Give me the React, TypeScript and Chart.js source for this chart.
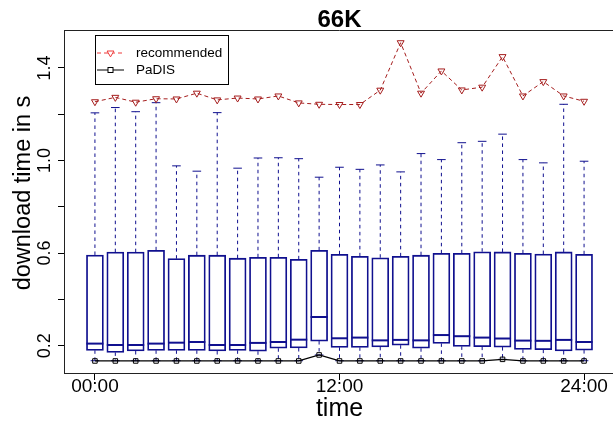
import React, { useEffect, useRef } from 'react';
import { Chart, registerables } from 'chart.js';

Chart.register(...registerables);

// ---- data ----
const hours = [0, 1, 2, 3, 4, 5, 6, 7, 8, 9, 10, 11, 12, 13, 14, 15, 16, 17, 18, 19, 20, 21, 22, 23, 24];

const recommended = [1.254, 1.273, 1.252, 1.267, 1.266, 1.291, 1.262, 1.270, 1.266, 1.279, 1.249, 1.243, 1.242,
  1.242, 1.304, 1.509, 1.291, 1.387, 1.305, 1.317, 1.449, 1.279, 1.341, 1.279, 1.256];

const padis = [0.134, 0.134, 0.134, 0.134, 0.134, 0.134, 0.134, 0.134, 0.134, 0.134, 0.134, 0.160, 0.134,
  0.134, 0.134, 0.134, 0.134, 0.134, 0.134, 0.134, 0.141, 0.134, 0.134, 0.134, 0.134];

const upperWhisker = [1.206, 1.229, 1.211, 1.250, 0.977, 0.954, 1.207, 0.967, 1.011, 1.012, 1.008, 0.928, 0.971,
  0.962, 0.981, 0.951, 1.030, 1.004, 1.077, 1.083, 1.114, 1.004, 0.990, 1.243, 0.997];

const q3 = [0.592, 0.604, 0.604, 0.612, 0.576, 0.591, 0.591, 0.578, 0.582, 0.582, 0.573, 0.612, 0.595,
  0.586, 0.580, 0.586, 0.591, 0.599, 0.599, 0.606, 0.605, 0.599, 0.596, 0.605, 0.595];

const median = [0.209, 0.203, 0.203, 0.209, 0.213, 0.216, 0.203, 0.203, 0.212, 0.216, 0.226, 0.324, 0.232,
  0.235, 0.223, 0.225, 0.223, 0.246, 0.241, 0.235, 0.231, 0.222, 0.221, 0.225, 0.216];

const q1 = [0.180, 0.171, 0.177, 0.180, 0.180, 0.180, 0.177, 0.180, 0.176, 0.189, 0.190, 0.220, 0.193,
  0.193, 0.195, 0.202, 0.189, 0.210, 0.197, 0.196, 0.194, 0.184, 0.183, 0.177, 0.181];

const lowerWhisker = [0.135, 0.135, 0.135, 0.135, 0.135, 0.135, 0.135, 0.135, 0.135, 0.135, 0.135, 0.160, 0.135,
  0.135, 0.135, 0.135, 0.135, 0.135, 0.135, 0.135, 0.141, 0.135, 0.135, 0.135, 0.135];

const xTickValues = [0, 12, 24];
const xTickLabels = ['00:00', '12:00', '24:00'];
const yTickValues = [0.2, 0.4, 0.6, 0.8, 1.0, 1.2, 1.4];
const yLabelValues = [0.2, 0.6, 1.0, 1.4];
const yLabelTexts = ['0.2', '0.6', '1.0', '1.4'];

const chartTitle = '66K';
const xTitle = 'time';
const yTitle = 'download time in s';
const seriesNames = ['recommended', 'PaDIS'];

// ---- style ----
const FONT = '"Liberation Sans", Arial, Helvetica, sans-serif';
const BOX = '#10108f';
const REC = '#a51d1d';
const REC_LEGEND = '#ee3b3b';
const PAD = '#000000';
const BOX_W = 17;

export default function App() {
  const ref = useRef<HTMLCanvasElement>(null);

  useEffect(() => {
    const canvas = ref.current;
    if (!canvas) return;

    const extras = {
      id: 'extras',
      afterDatasetDraw(chart: any, args: any) {
        if (args.index !== 0) return;
        const { ctx } = chart;
        const x = chart.scales.x;
        const y = chart.scales.y;
        ctx.save();
        ctx.strokeStyle = BOX;
        hours.forEach((h, i) => {
          const px = x.getPixelForValue(h);
          const yU = y.getPixelForValue(upperWhisker[i]);
          const y3 = y.getPixelForValue(q3[i]);
          const y1 = y.getPixelForValue(q1[i]);
          const yL = y.getPixelForValue(lowerWhisker[i]);
          const yM = y.getPixelForValue(median[i]);
          ctx.lineWidth = 1;
          ctx.setLineDash([3.5, 3.5]);
          ctx.beginPath();
          ctx.moveTo(px, y3);
          ctx.lineTo(px, yU);
          ctx.moveTo(px, y1);
          ctx.lineTo(px, yL);
          ctx.stroke();
          ctx.setLineDash([]);
          ctx.beginPath();
          ctx.moveTo(px - 4.3, yU);
          ctx.lineTo(px + 4.3, yU);
          ctx.moveTo(px - 4.3, yL);
          ctx.lineTo(px + 4.3, yL);
          ctx.stroke();
          ctx.lineWidth = 2;
          ctx.beginPath();
          ctx.moveTo(px - BOX_W / 2, yM);
          ctx.lineTo(px + BOX_W / 2, yM);
          ctx.stroke();
        });
        ctx.restore();
      },
      afterDraw(chart: any) {
        const { ctx, chartArea } = chart;
        const y = chart.scales.y;
        ctx.save();
        // top frame line
        ctx.strokeStyle = '#222';
        ctx.lineWidth = 1;
        ctx.beginPath();
        ctx.moveTo(chartArea.left, Math.round(chartArea.top) + 0.5);
        ctx.lineTo(chartArea.right, Math.round(chartArea.top) + 0.5);
        ctx.stroke();

        // title
        ctx.fillStyle = '#000';
        ctx.font = `bold 24px ${FONT}`;
        ctx.textAlign = 'center';
        ctx.textBaseline = 'alphabetic';
        ctx.fillText(chartTitle, (chartArea.left + chartArea.right) / 2, 27);

        // y axis title (rotated)
        ctx.save();
        ctx.font = `23.5px ${FONT}`;
        ctx.translate(24, 193);
        ctx.rotate(-Math.PI / 2);
        ctx.textAlign = 'center';
        ctx.textBaseline = 'middle';
        ctx.fillText(yTitle, 0, 0);
        ctx.restore();

        // rotated y tick labels
        ctx.font = `18px ${FONT}`;
        yLabelValues.forEach((v, i) => {
          const py = y.getPixelForValue(v);
          ctx.save();
          ctx.translate(50, py);
          ctx.rotate(-Math.PI / 2);
          ctx.textAlign = 'center';
          ctx.textBaseline = 'alphabetic';
          ctx.fillText(yLabelTexts[i], 0, 0);
          ctx.restore();
        });

        // legend
        const lx = 95.5, ly = 35.5, lw = 133, lh = 49;
        ctx.fillStyle = '#fff';
        ctx.fillRect(lx, ly, lw, lh);
        ctx.strokeStyle = '#000';
        ctx.lineWidth = 1;
        ctx.strokeRect(lx, ly, lw, lh);
        const rows = [53, 70];
        // recommended sample
        ctx.strokeStyle = REC_LEGEND;
        ctx.setLineDash([4, 3]);
        ctx.beginPath();
        ctx.moveTo(97, rows[0]);
        ctx.lineTo(124, rows[0]);
        ctx.stroke();
        ctx.setLineDash([]);
        ctx.fillStyle = '#fff';
        ctx.beginPath();
        ctx.moveTo(110.5 - 3.4, rows[0] - 2);
        ctx.lineTo(110.5 + 3.4, rows[0] - 2);
        ctx.lineTo(110.5, rows[0] + 3.9);
        ctx.closePath();
        ctx.fill();
        ctx.stroke();
        // PaDIS sample
        ctx.strokeStyle = PAD;
        ctx.beginPath();
        ctx.moveTo(97, rows[1]);
        ctx.lineTo(124, rows[1]);
        ctx.stroke();
        ctx.fillRect(108, rows[1] - 2.5, 5, 5);
        ctx.strokeRect(108, rows[1] - 2.5, 5, 5);
        // texts
        ctx.fillStyle = '#000';
        ctx.font = `13.5px ${FONT}`;
        ctx.textAlign = 'left';
        ctx.textBaseline = 'middle';
        ctx.fillText(seriesNames[0], 136, rows[0]);
        ctx.fillText(seriesNames[1], 136, rows[1]);
        ctx.restore();
      },
    };

    const chart = new Chart(canvas, {
      type: 'bar',
      data: {
        datasets: [
          {
            type: 'bar',
            label: 'box',
            data: hours.map((h, i) => ({ x: h, y: [q1[i], q3[i]] })) as any,
            backgroundColor: 'rgba(255,255,255,0)',
            borderColor: BOX,
            borderWidth: 1.1,
            borderSkipped: false,
            barThickness: BOX_W,
            order: 3,
          } as any,
          {
            type: 'line',
            label: seriesNames[0],
            data: hours.map((h, i) => ({ x: h, y: recommended[i] })),
            borderColor: REC,
            borderWidth: 1,
            borderDash: [4, 3],
            pointStyle: 'triangle',
            rotation: 180,
            pointRadius: 4,
            pointBorderColor: REC,
            pointBackgroundColor: 'rgba(255,255,255,0)',
            pointBorderWidth: 1,
            tension: 0,
            order: 1,
          } as any,
          {
            type: 'line',
            label: seriesNames[1],
            data: hours.map((h, i) => ({ x: h, y: padis[i] })),
            borderColor: PAD,
            borderWidth: 1.3,
            pointStyle: 'rect',
            pointRadius: 3.2,
            pointBorderColor: PAD,
            pointBackgroundColor: 'rgba(255,255,255,0)',
            pointBorderWidth: 1,
            tension: 0,
            order: 0,
          } as any,
        ],
      },
      options: {
        responsive: false,
        animation: false,
        devicePixelRatio: 1,
        events: [],
        layout: { padding: { top: 30, right: 4, bottom: 0, left: 0 } },
        plugins: {
          legend: { display: false },
          title: { display: false },
          tooltip: { enabled: false },
        },
        scales: {
          x: {
            type: 'linear',
            min: -1.518,
            max: 25.518,
            offset: false,
            afterBuildTicks: (s: any) => {
              s.ticks = xTickValues.map((v) => ({ value: v }));
            },
            afterFit: (s: any) => {
              s.height = 49;
            },
            grid: { display: true, drawOnChartArea: false, drawTicks: true, tickLength: 7, color: '#000', offset: false },
            border: { display: true, color: '#222', width: 1 },
            ticks: {
              autoSkip: false,
              maxRotation: 0,
              minRotation: 0,
              padding: -3,
              color: '#000',
              font: { family: FONT, size: 19, lineHeight: 1 },
              callback: (v: any) => {
                const k = xTickValues.indexOf(Number(v));
                return k >= 0 ? xTickLabels[k] : '';
              },
            },
            title: {
              display: true,
              text: xTitle,
              color: '#000',
              font: { family: FONT, size: 25, lineHeight: 1 },
              padding: { top: 0, bottom: 0 },
            },
          },
          y: {
            type: 'linear',
            min: 0.082,
            max: 1.564,
            afterBuildTicks: (s: any) => {
              s.ticks = yTickValues.map((v) => ({ value: v }));
            },
            afterFit: (s: any) => {
              s.width = 64;
            },
            grid: { display: true, drawOnChartArea: false, drawTicks: true, tickLength: 6, color: '#000' },
            border: { display: true, color: '#222', width: 1 },
            ticks: { display: false },
            title: { display: false },
          },
        },
      } as any,
      plugins: [extras],
    });

    return () => chart.destroy();
  }, []);

  return (
    <div style={{ position: 'fixed', left: 0, top: 0, width: 613, height: 422, overflow: 'hidden', background: '#fff' }}>
      <canvas ref={ref} width={620} height={422} style={{ display: 'block', width: 620, height: 422 }} />
    </div>
  );
}
